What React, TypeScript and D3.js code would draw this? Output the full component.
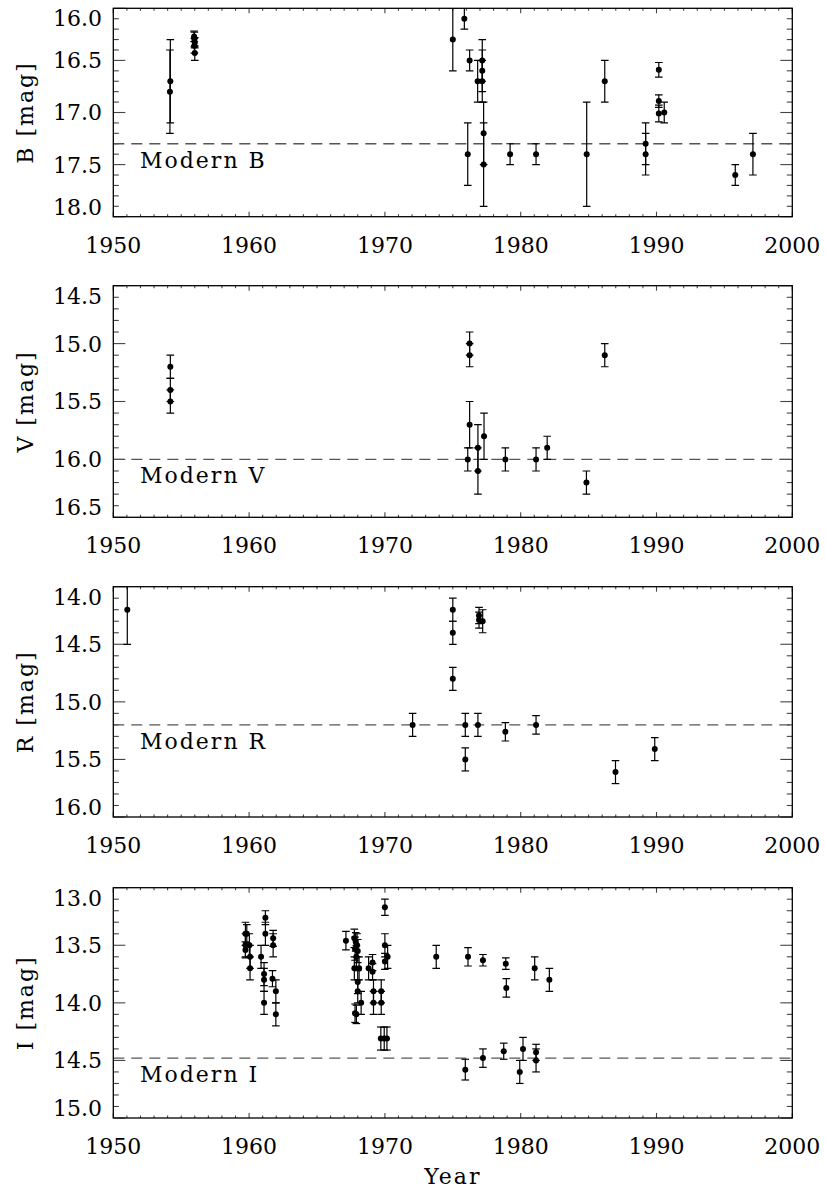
import React from 'react'
import * as d3 from 'd3'

// ---- data: year, magnitude, error ----
const bYear = [1954.17, 1954.2, 1955.95, 1955.97, 1956.0, 1955.97, 1956.0, 1975.0, 1975.85, 1976.1, 1976.24, 1976.83,
  1977.17, 1977.17, 1977.17, 1977.27, 1977.27, 1979.22, 1981.13, 1984.86, 1986.19, 1989.2, 1989.2,
  1990.17, 1990.17, 1990.17, 1990.57, 1995.8, 1997.1]
const bMag = [16.8, 16.7, 16.27, 16.3, 16.33, 16.36, 16.43, 16.3, 16.1, 17.4, 16.5, 16.7,
  16.5, 16.6, 16.7, 17.2, 17.5, 17.4, 17.4, 17.4, 16.7, 17.3, 17.4,
  16.59, 16.89, 17.01, 17.0, 17.6, 17.4]
const bErr = [0.4, 0.4, 0.05, 0.07, 0.05, 0.07, 0.07, 0.3, 0.1, 0.3, 0.1, 0.2,
  0.2, 0.2, 0.2, 0.3, 0.4, 0.1, 0.1, 0.5, 0.2, 0.2, 0.2,
  0.07, 0.06, 0.08, 0.1, 0.1, 0.2]

const vYear = [1954.2, 1954.2, 1954.2, 1976.24, 1976.24, 1976.1, 1976.24, 1976.85, 1976.85, 1977.3,
  1978.87, 1981.13, 1981.95, 1984.84, 1986.19]
const vMag = [15.2, 15.4, 15.5, 15.0, 15.1, 16.0, 15.7, 15.9, 16.1, 15.8, 16.0, 16.0, 15.9, 16.2, 15.1]
const vErr = [0.1, 0.1, 0.1, 0.1, 0.1, 0.1, 0.2, 0.2, 0.2, 0.2, 0.1, 0.1, 0.1, 0.1, 0.1]

const rYear = [1951.03, 1975.0, 1975.0, 1975.0, 1972.04, 1975.92, 1975.92, 1976.85, 1976.93, 1976.93, 1977.2,
  1978.87, 1981.13, 1986.98, 1989.87]
const rMag = [14.2, 14.2, 14.4, 14.8, 15.2, 15.2, 15.5, 15.2, 14.25, 14.29, 14.3, 15.26, 15.2, 15.61, 15.41]
const rErr = [0.3, 0.1, 0.1, 0.1, 0.1, 0.1, 0.1, 0.1, 0.07, 0.07, 0.1, 0.08, 0.08, 0.1, 0.1]

const iYear = [1959.73, 1959.73, 1959.73, 1959.83, 1960.02, 1960.07, 1960.07, 1960.88, 1961.2, 1961.2,
  1961.1, 1961.1, 1961.1, 1961.77, 1961.77, 1961.72, 1961.97, 1961.97,
  1967.13, 1967.75, 1967.85, 1967.95, 1967.8, 1968.0, 1967.9, 1967.75, 1968.1, 1968.0, 1968.0,
  1967.8, 1967.9, 1968.25, 1968.8, 1969.09, 1969.09, 1969.16, 1969.16, 1969.73, 1969.73,
  1969.7, 1969.95, 1970.15, 1970.0, 1970.0, 1970.0, 1970.2, 1973.78, 1976.12, 1975.92,
  1977.22, 1977.22, 1978.9, 1978.94, 1978.75, 1979.93, 1980.17, 1981.03, 1981.13, 1981.13, 1982.11]
const iMag = [13.4, 13.5, 13.54, 13.4, 13.5, 13.6, 13.7, 13.6, 13.26, 13.4,
  13.75, 13.8, 14.0, 13.44, 13.5, 13.79, 13.9, 14.1,
  13.46, 13.44, 13.47, 13.5, 13.53, 13.55, 13.6, 13.7, 13.7, 13.82, 13.9,
  14.09, 14.1, 14.0, 13.7, 13.65, 13.73, 13.9, 14.0, 13.9, 14.0,
  14.31, 14.31, 14.31, 13.17, 13.5, 13.64, 13.6, 13.6, 13.6, 14.58,
  13.63, 14.48, 13.66, 13.87, 14.42, 14.6, 14.4, 13.7, 14.43, 14.5, 13.8]
const iErr = [0.1, 0.1, 0.07, 0.08, 0.1, 0.1, 0.1, 0.1, 0.06, 0.1,
  0.1, 0.1, 0.1, 0.07, 0.1, 0.07, 0.1, 0.1,
  0.08, 0.08, 0.08, 0.1, 0.1, 0.1, 0.1, 0.1, 0.1, 0.1, 0.1,
  0.08, 0.08, 0.1, 0.1, 0.07, 0.07, 0.1, 0.1, 0.1, 0.1,
  0.1, 0.1, 0.1, 0.07, 0.1, 0.07, 0.1, 0.1, 0.08, 0.09,
  0.05, 0.08, 0.05, 0.08, 0.07, 0.1, 0.1, 0.1, 0.07, 0.1, 0.1]

const bands = ['B', 'V', 'R', 'I']
const magRanges = [[16.0, 18.0], [14.5, 16.5], [14.0, 16.0], [13.0, 15.0]]
const modernMag = [17.3, 16.0, 15.2, 14.48]
const yearTicks = [1950, 1960, 1970, 1980, 1990, 2000]

const FONT = 'DejaVu Serif'
const panelTops = [8.3, 285.7, 586.7, 887.7]
const panelBottoms = [216.7, 517.3, 817, 1118]

const x = d3.scaleLinear().domain([1950, 2000]).range([113.3, 792.3])

function Panel({ idx, years, mags, errs }) {
  const [lo, hi] = magRanges[idx]
  const top = panelTops[idx]
  const bottom = panelBottoms[idx]
  const y = d3.scaleLinear().domain([lo, hi]).range([top, bottom])
  const left = x.range()[0]
  const right = x.range()[1]
  const clipId = 'clip' + idx
  const minorY = d3.range(Math.round(lo * 10), Math.round(hi * 10) + 1).map(v => v / 10)
  const minorX = d3.range(1950, 2001)
  const majorY = minorY.filter(v => Math.abs(v * 2 - Math.round(v * 2)) < 1e-6)
  const dashY = y(modernMag[idx])

  return (
    <g>
      <defs>
        <clipPath id={clipId}>
          <rect x={left} y={top} width={right - left} height={bottom - top} />
        </clipPath>
      </defs>

      {/* ticks */}
      <g stroke="#444" strokeWidth={1.1}>
        {minorX.map(t => {
          const len = t % 10 === 0 ? 5 : 2.5
          return (
            <g key={'x' + t}>
              <line x1={x(t)} x2={x(t)} y1={bottom} y2={bottom - len} />
              <line x1={x(t)} x2={x(t)} y1={top} y2={top + len} />
            </g>
          )
        })}
        {minorY.map(t => {
          const len = majorY.includes(t) ? 12 : 5.5
          return (
            <g key={'y' + t}>
              <line x1={left} x2={left + len} y1={y(t)} y2={y(t)} />
              <line x1={right} x2={right - len} y1={y(t)} y2={y(t)} />
            </g>
          )
        })}
      </g>

      {/* modern level */}
      <line x1={left} x2={right} y1={dashY} y2={dashY} stroke="#555" strokeWidth={1.3} strokeDasharray="11 7" />
      <text x={140} y={dashY + 24} fontFamily={FONT} fontSize={22} letterSpacing={2}>
        {'Modern ' + bands[idx]}
      </text>

      {/* data with error bars */}
      <g clipPath={`url(#${clipId})`} stroke="#000" strokeWidth={1.2}>
        {years.map((yr, i) => {
          const cx = x(yr)
          const y1 = y(mags[i] - errs[i])
          const y2 = y(mags[i] + errs[i])
          return (
            <g key={i}>
              <line x1={cx} x2={cx} y1={y1} y2={y2} />
              <line x1={cx - 3.8} x2={cx + 3.8} y1={y1} y2={y1} />
              <line x1={cx - 3.8} x2={cx + 3.8} y1={y2} y2={y2} />
              <circle cx={cx} cy={y(mags[i])} r={3} fill="#000" stroke="none" />
            </g>
          )
        })}
      </g>

      {/* frame */}
      <rect x={left} y={top} width={right - left} height={bottom - top} fill="none" stroke="#000" strokeWidth={1.3} />

      {/* tick labels */}
      <g fontFamily={FONT} fontSize={22} fill="#000">
        {majorY.map((t, k) => {
          let ty = y(t)
          if (k === 0) ty += 10
          if (k === majorY.length - 1) ty -= 10
          return (
            <text key={'ly' + t} x={102} y={ty} dy="0.36em" textAnchor="end">
              {t.toFixed(1)}
            </text>
          )
        })}
        {yearTicks.map(t => (
          <text key={'lx' + t} x={x(t)} y={bottom + 36} textAnchor="middle">
            {t}
          </text>
        ))}
      </g>

      <text
        transform={`translate(33,${(top + bottom) / 2}) rotate(-90)`}
        textAnchor="middle"
        fontFamily={FONT}
        fontSize={22}
        letterSpacing={2}
      >
        {bands[idx] + ' [mag]'}
      </text>
    </g>
  )
}

export default function App() {
  const series = [
    [bYear, bMag, bErr],
    [vYear, vMag, vErr],
    [rYear, rMag, rErr],
    [iYear, iMag, iErr],
  ]
  return (
    <svg width={825} height={1188} style={{ position: 'absolute', left: 0, top: 0, background: '#fff' }}>
      <rect width={825} height={1188} fill="#fff" />
      {series.map((s, i) => (
        <Panel key={i} idx={i} years={s[0]} mags={s[1]} errs={s[2]} />
      ))}
      <text x={452.8} y={1184} textAnchor="middle" fontFamily={FONT} fontSize={22} letterSpacing={2}>
        Year
      </text>
    </svg>
  )
}
